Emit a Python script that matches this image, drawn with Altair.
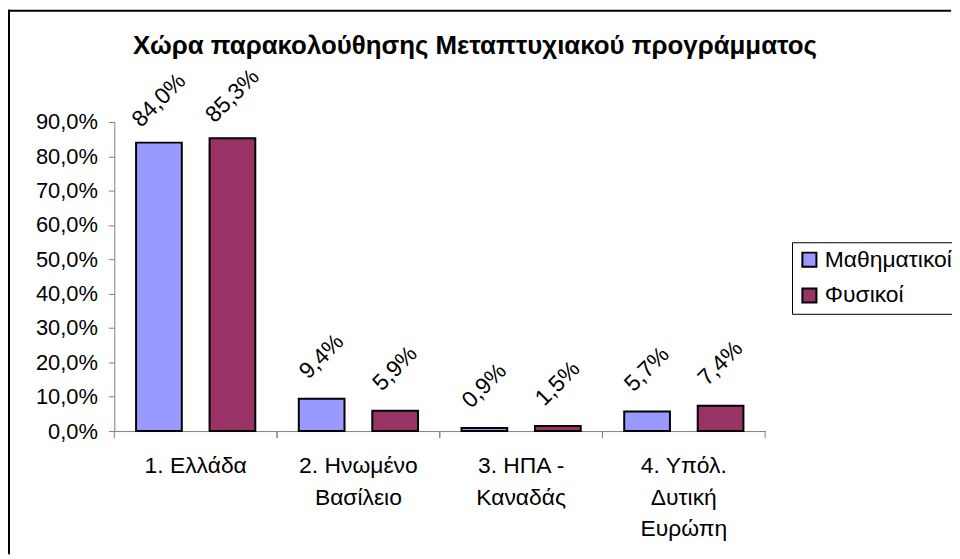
import altair as alt
import pandas as pd

FONT = "Liberation Sans"

title_text = "Χώρα παρακολούθησης Μεταπτυχιακού προγράμματος"
categories = ["1. Ελλάδα", "2. Ηνωμένο|Βασίλειο", "3. ΗΠΑ -|Καναδάς", "4. Υπόλ.|Δυτική|Ευρώπη"]
series = ["Μαθηματικοί", "Φυσικοί"]
math_values = [0.840, 0.094, 0.009, 0.057]
phys_values = [0.853, 0.059, 0.015, 0.074]
y_ticks = [0.0, 0.1, 0.2, 0.3, 0.4, 0.5, 0.6, 0.7, 0.8, 0.9]
colors = ["#9999FF", "#993366"]

rows = []
for s, vals in zip(series, [math_values, phys_values]):
    for c, v in zip(categories, vals):
        rows.append({"cat": c, "series": s, "value": v,
                     "label": f"{v * 100:.1f}".replace(".", ",") + "%"})
df = pd.DataFrame(rows)

W, H = 655, 311
PAD_L, PAD_T, PAD_R, PAD_B = 107, 113, 188, 125

x_axis = alt.Axis(title=None, labelExpr="split(datum.label, '|')", labelAngle=0,
                  ticks=False, domainColor="#808080", labelFontSize=23,
                  labelFont=FONT, labelColor="black", labelPadding=24,
                  labelLineHeight=31.5, labelBaseline="top", labelLimit=300)
y_axis = alt.Axis(title=None, values=y_ticks,
                  labelExpr="replace(format(datum.value*100, '.1f'), '.', ',') + '%'",
                  tickSize=6, tickColor="#808080", domainColor="#808080",
                  grid=False, labelFontSize=22, labelFont=FONT,
                  labelColor="black", labelPadding=11,
                  labelOverlap=False, labelFlush=False)
x_scale = alt.Scale(paddingInner=0, paddingOuter=0)
y_scale = alt.Scale(domain=[0, 0.9], nice=False)


def xe(**kw):
    return alt.X("cat:N", sort=categories, scale=x_scale, axis=x_axis, **kw)


def ye():
    return alt.Y("value:Q", scale=y_scale, axis=y_axis)


xoff = alt.XOffset("series:N", sort=series,
                   scale=alt.Scale(paddingInner=0.378, paddingOuter=0.296))

bars = alt.Chart(df).mark_bar(stroke="black", strokeWidth=2).encode(
    x=xe(), xOffset=xoff, y=ye(),
    color=alt.Color("series:N", sort=series,
                    scale=alt.Scale(domain=series, range=colors),
                    legend=alt.Legend(title=None, orient="none", legendX=682, legendY=121,
                                      strokeColor="black", fillColor="white", padding=6,
                                      symbolType="square", symbolSize=200,
                                      symbolStrokeColor="black", symbolStrokeWidth=2,
                                      labelFontSize=23, labelFont=FONT, labelColor="black",
                                      rowPadding=12, labelOffset=4)))

labels = alt.Chart(df).mark_text(angle=315, align="center", baseline="middle",
                                 dx=30, dy=-30, fontSize=23, font=FONT, color="black").encode(
    x=xe(), xOffset=xoff, y=ye(), text="label:N")

tick_df = pd.DataFrame({"cat": categories})
ticks0 = alt.Chart(tick_df).mark_rule(color="#808080", strokeWidth=1).encode(
    x=xe(bandPosition=0), y=alt.value(H), y2=alt.value(H + 7))
ticks1 = alt.Chart(tick_df).mark_rule(color="#808080", strokeWidth=1).encode(
    x=xe(bandPosition=1), y=alt.value(H), y2=alt.value(H + 7))

title = alt.Chart(pd.DataFrame({"t": [title_text]})).mark_text(
    fontSize=26, fontWeight="bold", font=FONT, color="black", baseline="middle").encode(
    text="t:N", x=alt.value(363), y=alt.value(-76))

frame_df = pd.DataFrame({"a": [0]})
border_top = alt.Chart(frame_df).mark_rule(color="black", strokeWidth=2).encode(
    x=alt.value(-PAD_L), x2=alt.value(W + PAD_R - 1), y=alt.value(-PAD_T + 1))
border_left = alt.Chart(frame_df).mark_rule(color="black", strokeWidth=2).encode(
    x=alt.value(-PAD_L + 1), y=alt.value(-PAD_T), y2=alt.value(H + PAD_B - 1))

chart = alt.layer(border_top, border_left, bars, labels, ticks0, ticks1, title).properties(
    width=W, height=H,
    autosize=alt.AutoSizeParams(type="none"),
    padding={"left": PAD_L, "top": PAD_T, "right": PAD_R, "bottom": PAD_B},
).configure(font=FONT).configure_view(stroke=None)

chart.save("out.html", embed_options={"renderer": "svg", "actions": False})
